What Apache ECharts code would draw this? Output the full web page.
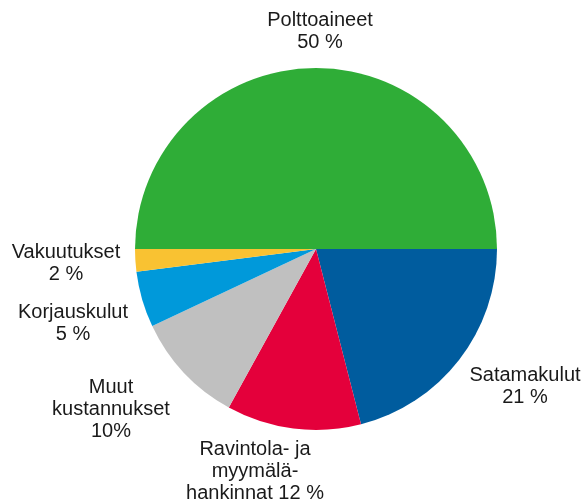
<!DOCTYPE html>
<html>
<head>
<meta charset="utf-8">
<script src="https://cdn.jsdelivr.net/npm/echarts@6/dist/echarts.min.js"></script>
<style>
  html, body { margin: 0; padding: 0; background: #fff; }
  #chart { width: 584px; height: 502px; }
</style>
</head>
<body>
<div id="chart"></div>
<script>
// kulurakenne, osuudet prosentteina
const categories = ["Polttoaineet", "Satamakulut", "Ravintola- ja\nmyymälä-\nhankinnat", "Muut\nkustannukset", "Korjauskulut", "Vakuutukset"];
const values = [50, 21, 12, 10, 5, 2];
const labelTexts = ["Polttoaineet\n50 %", "Satamakulut\n21 %", "Ravintola- ja\nmyymälä-\nhankinnat 12 %", "Muut\nkustannukset\n10%", "Korjauskulut\n5 %", "Vakuutukset\n2 %"];

const colors = ["#2fad37", "#005c9e", "#e4003b", "#c0c0c0", "#0099da", "#f9c232"];

// label centre points (px)
const labelAnchors = [
  [320, 31],
  [525, 386],
  [255, 471],
  [111, 409],
  [73, 323],
  [66, 263]
];

const chart = echarts.init(document.getElementById("chart"));

chart.setOption({
  animation: false,
  color: colors,
  series: [
    {
      type: "pie",
      center: [316, 249],
      radius: 181,
      startAngle: 180,
      clockwise: true,
      label: {
        show: true,
        position: "outside",
        alignTo: "none",
        overflow: "none",
        formatter: (p) => labelTexts[p.dataIndex],
        color: "#1a1a1a",
        fontFamily: "Liberation Sans, Arial, sans-serif",
        fontSize: 20,
        lineHeight: 22,
        align: "center"
      },
      labelLine: { show: false },
      labelLayout: (params) => ({
        x: labelAnchors[params.dataIndex][0],
        y: labelAnchors[params.dataIndex][1],
        align: "center",
        verticalAlign: "middle"
      }),
      itemStyle: { borderWidth: 0 },
      emphasis: { disabled: true },
      data: categories.map((name, i) => ({ name: name, value: values[i] }))
    }
  ]
});
</script>
</body>
</html>
